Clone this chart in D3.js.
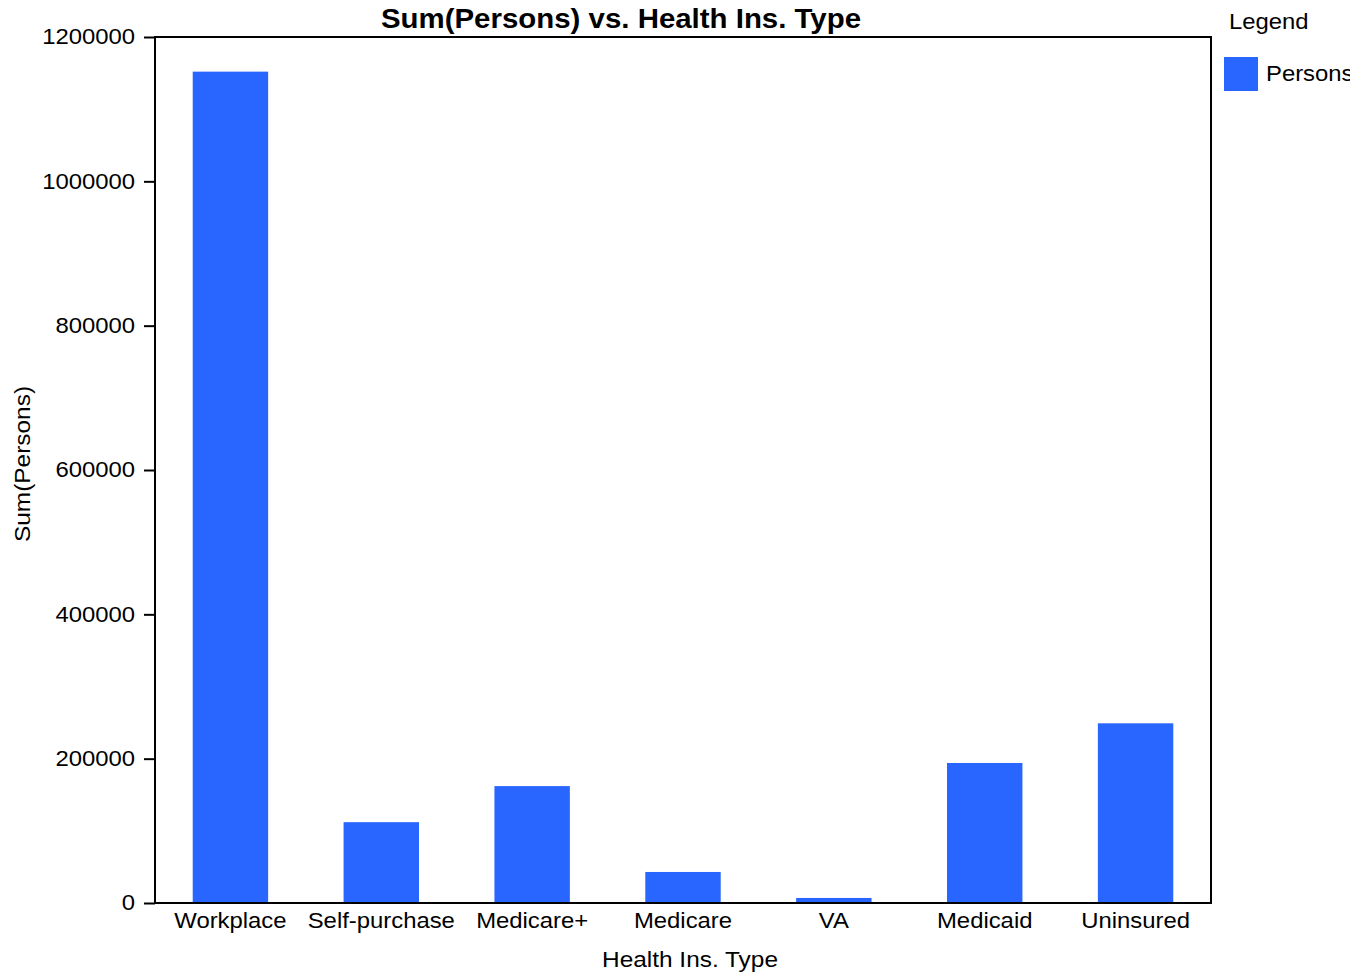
<!DOCTYPE html>
<html><head><meta charset="utf-8">
<script src="https://cdn.jsdelivr.net/npm/d3@7"></script>
<style>
body{margin:0;background:#fff;}
svg{display:block;font-family:"Liberation Sans",Arial,sans-serif;}
</style></head>
<body>
<svg id="chart" width="1350" height="974"></svg>
<script>
const categories = ["Workplace","Self-purchase","Medicare+","Medicare","VA","Medicaid","Uninsured"];
const persons = [1152000,112000,162000,43000,7000,194000,249000];
const yTicks = [0,200000,400000,600000,800000,1000000,1200000];
const seriesName = "Persons";
const barColor = "#2966ff";

const FS = 21.5, SX = 1.11;
const svg = d3.select("#chart");
const m = {left:155, right:1211, top:37, bottom:903};

const x = d3.scaleBand().domain(categories).range([m.left, m.right]).paddingInner(0.5).paddingOuter(0.25);
const y = d3.scaleLinear().domain([0,1200000]).range([m.bottom, m.top]);

svg.append("g").selectAll("rect").data(categories).join("rect")
  .attr("x", d => x(d)).attr("width", x.bandwidth())
  .attr("y", (d,i) => y(persons[i])).attr("height", (d,i) => y(0) - y(persons[i]))
  .attr("fill", barColor);

svg.append("rect").attr("x", m.left).attr("y", m.top).attr("width", m.right-m.left).attr("height", m.bottom-m.top)
  .attr("fill","none").attr("stroke","#000").attr("stroke-width",2);

function stretchAxisText(sel){
  sel.each(function(){
    const t = d3.select(this);
    const tx = +t.attr("x") || 0;
    t.attr("x", tx / SX).attr("transform", `scale(${SX},1)`);
  });
}

const ya = svg.append("g").attr("transform",`translate(${m.left},0)`)
  .call(d3.axisLeft(y).tickValues(yTicks).tickFormat(d3.format("d")).tickSize(11).tickPadding(9));
ya.select(".domain").remove();
ya.selectAll("line").attr("stroke","#000").attr("stroke-width",2);
ya.selectAll("text").attr("font-size",FS).attr("font-family","Liberation Sans, Arial, sans-serif").attr("fill","#000")
  .call(stretchAxisText);

const xa = svg.append("g").attr("transform",`translate(0,${m.bottom})`)
  .call(d3.axisBottom(x).tickSize(0).tickPadding(10));
xa.select(".domain").remove();
xa.selectAll("text").attr("font-size",FS).attr("font-family","Liberation Sans, Arial, sans-serif").attr("fill","#000")
  .call(stretchAxisText);

function label(px, py, str, opts={}){
  const g = svg.append("g").attr("transform",`translate(${px},${py})${opts.rotate?` rotate(${opts.rotate})`:""}`);
  g.append("text").attr("transform",`scale(${opts.sx||SX},1)`)
    .attr("text-anchor", opts.anchor || "start")
    .attr("font-size", opts.size || FS)
    .attr("font-weight", opts.weight || "normal")
    .attr("fill","#000").text(str);
  return g;
}

label(621, 28, "Sum(Persons) vs. Health Ins. Type", {anchor:"middle", size:27, weight:"bold", sx:1.09});
label(690, 967, "Health Ins. Type", {anchor:"middle", size:22});
label(30, 464, "Sum(Persons)", {anchor:"middle", size:22, rotate:-90});

label(1229, 29, "Legend", {});
svg.append("rect").attr("x",1224).attr("y",57).attr("width",34).attr("height",34).attr("fill",barColor);
label(1266, 81, seriesName, {});
</script>
</body></html>
